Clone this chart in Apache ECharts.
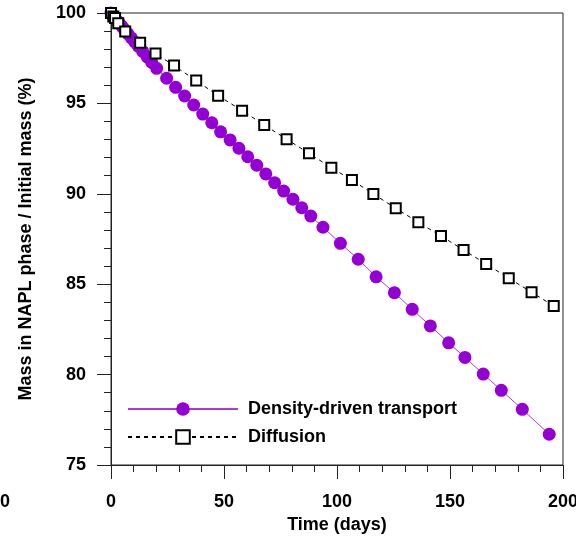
<!DOCTYPE html>
<html>
<head>
<meta charset="utf-8">
<script src="https://cdn.jsdelivr.net/npm/echarts@6/dist/echarts.min.js"></script>
<style>
  html, body { margin: 0; padding: 0; background: #fff; }
  #chart { width: 576px; height: 537px; }
</style>
</head>
<body>
<div id="chart"></div>
<script>
// 密度驱动 (days, %)
const densityTime = [0, 0.5, 1, 1.5, 2, 3, 4, 5, 6, 7.5, 9, 10.5, 12, 14, 16, 18, 20.2, 24.6, 28.6, 32.6, 36.6, 40.6, 44.6, 48.5, 52.7, 56.6, 60.5, 64.5, 68.5, 72.4, 76.4, 80.5, 84.4, 88.4, 93.8, 101.5, 109.4, 117.3, 125.4, 133.3, 141.3, 149.4, 156.6, 164.7, 172.7, 182.0, 193.9]
const densityMass = [100, 99.92, 99.84, 99.76, 99.68, 99.53, 99.38, 99.23, 99.08, 98.85, 98.62, 98.40, 98.17, 97.87, 97.57, 97.27, 96.94, 96.39, 95.89, 95.41, 94.91, 94.41, 93.93, 93.43, 92.98, 92.52, 92.05, 91.58, 91.10, 90.61, 90.15, 89.70, 89.23, 88.77, 88.15, 87.26, 86.38, 85.41, 84.53, 83.61, 82.69, 81.76, 80.95, 80.03, 79.13, 78.08, 76.70]

// 扩散
const diffusionTime = [0, 1.0, 1.8, 3.2, 6.3, 12.9, 19.7, 27.9, 37.7, 47.4, 58.0, 67.8, 77.7, 87.6, 97.5, 106.6, 116.1, 126.0, 136.0, 146.0, 156.0, 166.0, 176.0, 186.1, 195.9]
const diffusionMass = [100, 99.80, 99.72, 99.43, 98.97, 98.36, 97.76, 97.09, 96.26, 95.43, 94.60, 93.81, 93.02, 92.24, 91.44, 90.76, 89.99, 89.20, 88.42, 87.67, 86.89, 86.12, 85.33, 84.56, 83.79]

const seriesNames = ['Density-driven transport', 'Diffusion']

const font = 'Liberation Sans, Arial, sans-serif'
const zip = (xs, ys) => xs.map((x, i) => [x, ys[i]])

const chart = echarts.init(document.getElementById('chart'))
let option = {
  animation: false,
  grid: {
    left: 111,
    right: 13,
    top: 13,
    bottom: 72,
    outerBoundsMode: 'none', // 不自动收缩
    show: true,
    borderColor: '#222',
    borderWidth: 1,
  },
  legend: {
    orient: 'vertical',
    left: 127,
    top: 400,
    padding: 0,
    itemWidth: 110,
    itemHeight: 17,
    itemGap: 10,
    data: seriesNames,
    textStyle: {
      fontFamily: font,
      fontWeight: 'bold',
      fontSize: 18,
      color: '#000',
      padding: [0, 0, 0, 5],
    },
  },
  xAxis: {
    type: 'value',
    min: 0,
    max: 200,
    interval: 50,
    name: 'Time (days)',
    nameLocation: 'middle',
    nameGap: 48,
    nameTextStyle: { fontFamily: font, fontWeight: 'bold', fontSize: 18, color: '#000' },
    axisLine: { lineStyle: { color: '#222', width: 1 } },
    axisTick: { length: 14, lineStyle: { color: '#222' } },
    minorTick: { show: true, splitNumber: 5, length: 7, lineStyle: { color: '#222' } },
    splitLine: { show: false },
    axisLabel: { margin: 28, fontFamily: font, fontWeight: 'bold', fontSize: 18, color: '#000' },
  },
  yAxis: {
    type: 'value',
    min: 75,
    max: 100,
    interval: 5,
    name: 'Mass in NAPL phase / Initial mass (%)',
    nameLocation: 'middle',
    nameGap: 76,
    nameTextStyle: { fontFamily: font, fontWeight: 'bold', fontSize: 18, color: '#000' },
    axisLine: { lineStyle: { color: '#222', width: 1 } },
    axisTick: { length: 14, lineStyle: { color: '#222' } },
    minorTick: { show: true, splitNumber: 5, length: 7, lineStyle: { color: '#222' } },
    splitLine: { show: false },
    axisLabel: { margin: 25, fontFamily: font, fontWeight: 'bold', fontSize: 18, color: '#000' },
  },
  graphic: [
    {
      type: 'text',
      left: 0,
      top: 493,
      style: { text: '0', font: 'bold 18px ' + font, fill: '#000' },
    },
  ],
  series: [
    {
      name: seriesNames[0],
      type: 'line',
      data: zip(densityTime, densityMass),
      symbol: 'circle',
      symbolSize: 13,
      itemStyle: { color: '#9400D3' },
      lineStyle: { color: '#A63BE0', width: 1 },
    },
    {
      name: seriesNames[1],
      type: 'line',
      data: zip(diffusionTime, diffusionMass),
      symbol: 'rect',
      symbolSize: 10,
      itemStyle: { color: '#fff', borderColor: '#000', borderWidth: 2 },
      lineStyle: { color: '#000', width: 1, type: [4, 4] },
    },
  ],
}
chart.setOption(option)
</script>
</body>
</html>
